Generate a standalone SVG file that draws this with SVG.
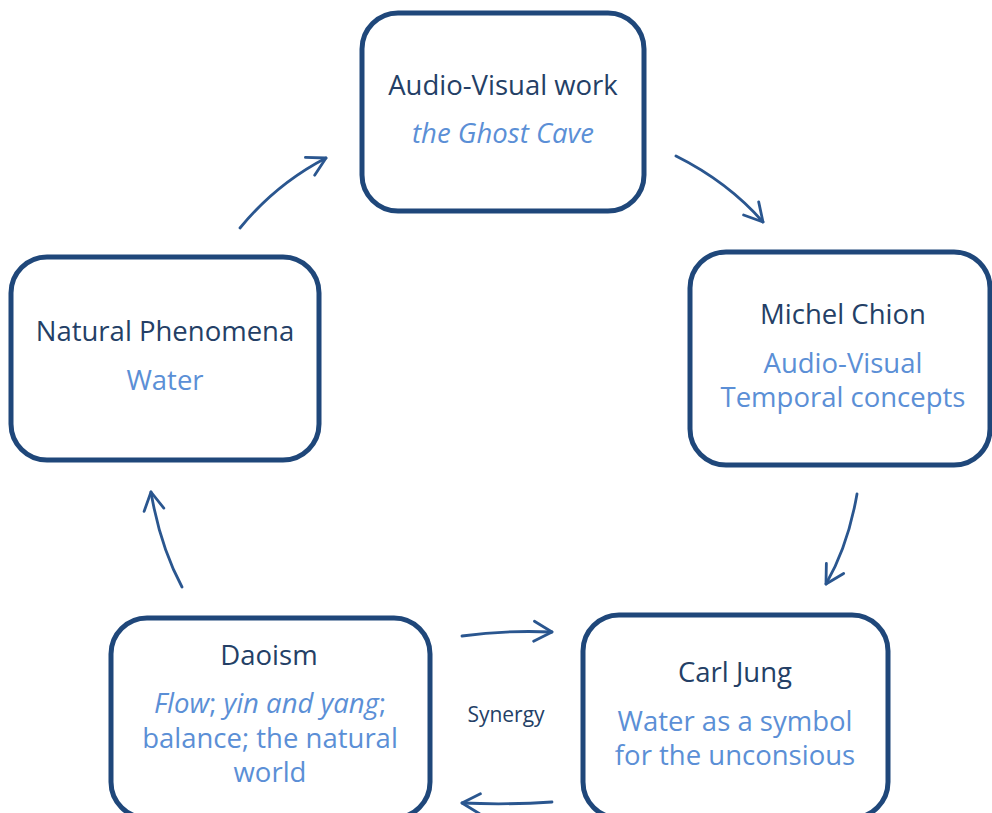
<svg xmlns="http://www.w3.org/2000/svg" width="992" height="813" viewBox="0 0 992 813">
<style>
.box{fill:#fff;stroke:#1f477a;stroke-width:5}
.t{font-family:"Open Sans","Noto Sans",sans-serif;font-size:27.5px;fill:#243f66;text-anchor:middle}
.s{font-family:"Open Sans","Noto Sans",sans-serif;font-size:27.5px;fill:#5b8fd6;text-anchor:middle}
.i{font-style:italic}
.c{fill:none;stroke:#2a568f;stroke-width:2.8;stroke-linecap:round;stroke-linejoin:round}
</style>
<defs>
<marker id="ah" viewBox="0 0 24 24" refX="21" refY="12" markerWidth="24" markerHeight="24" markerUnits="userSpaceOnUse" orient="auto">
<path d="M3,2 L21,12 L3,22" fill="none" stroke="#2a568f" stroke-width="2.8" stroke-linecap="round" stroke-linejoin="round"/>
</marker>
</defs>
<rect width="992" height="813" fill="#fff"/>
<g id="connectors">
<path class="c" d="M240,228 Q276,184 326,158" marker-end="url(#ah)"/>
<path class="c" d="M676,156 Q728,182 763,222" marker-end="url(#ah)"/>
<path class="c" d="M857,494 Q848,546 826,584" marker-end="url(#ah)"/>
<path class="c" d="M182,587 Q160,546 151,492" marker-end="url(#ah)"/>
<path class="c" d="M462,636 Q505,630 552,632" marker-end="url(#ah)"/>
<path class="c" d="M552,802 Q508,805 462,803" marker-end="url(#ah)"/>
</g>
<g id="audiovisual">
<rect class="box" x="362" y="13" width="282" height="198" rx="36"/>
<text class="t" x="503" y="95">Audio-Visual work</text>
<text class="s i" x="503" y="143">the Ghost Cave</text>
</g>
<g id="natural">
<rect class="box" x="11" y="257" width="308" height="203" rx="36"/>
<text class="t" x="165" y="341">Natural Phenomena</text>
<text class="s" x="165" y="390">Water</text>
</g>
<g id="chion">
<rect class="box" x="690" y="252" width="300" height="213" rx="36"/>
<text class="t" x="843" y="324">Michel Chion</text>
<text class="s" x="843" y="373">Audio-Visual</text>
<text class="s" x="843" y="407">Temporal concepts</text>
</g>
<g id="daoism">
<rect class="box" x="111" y="618" width="319" height="200" rx="36"/>
<text class="t" x="269" y="665">Daoism</text>
<text class="s" x="270" y="713"><tspan class="i">Flow</tspan>; <tspan class="i">yin and yang</tspan>;</text>
<text class="s" x="270" y="748">balance; the natural</text>
<text class="s" x="270" y="782">world</text>
</g>
<g id="jung">
<rect class="box" x="583" y="615" width="305" height="203" rx="36"/>
<text class="t" x="735" y="682">Carl Jung</text>
<text class="s" x="735" y="731">Water as a symbol</text>
<text class="s" x="735" y="765">for the unconsious</text>
</g>
<g id="synergy">
<text class="t" x="506" y="722" style="font-size:21px">Synergy</text>
</g>
</svg>
